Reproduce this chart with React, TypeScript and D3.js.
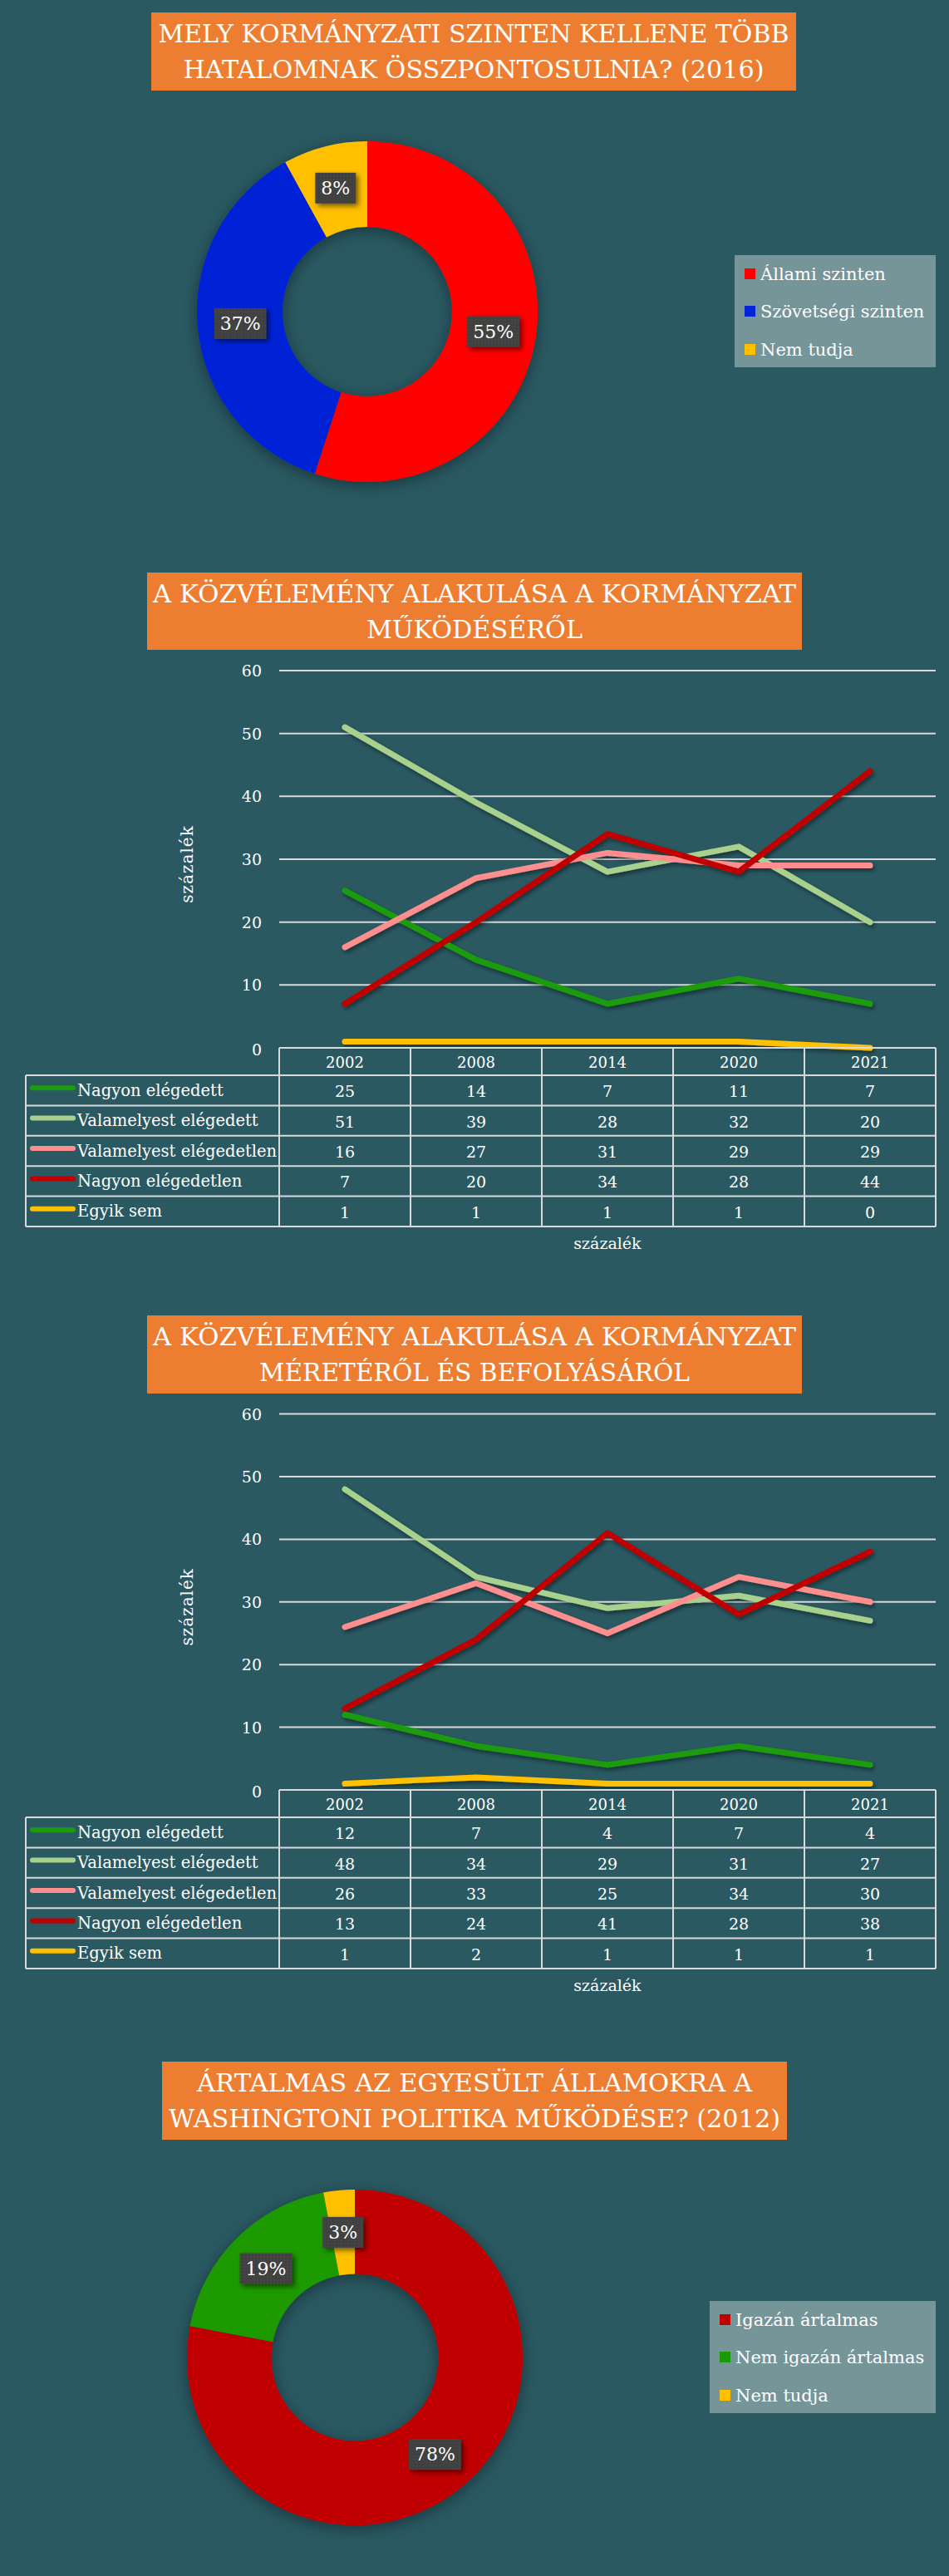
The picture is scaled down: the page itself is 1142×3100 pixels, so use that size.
import React, { useEffect, useRef } from "react";
import * as d3 from "d3";

const W = 1142;
const H = 3100;
const BG = "#2a5962";
const ORANGE = "#ed7d31";
const GRID = "#d9d9d9";
const FONT = "'DejaVu Serif', 'Liberation Serif', serif";

// chart 1 – donut
const title1 = ["MELY KORMÁNYZATI SZINTEN KELLENE TÖBB", "HATALOMNAK ÖSSZPONTOSULNIA? (2016)"];
const levelLabels = ["Állami szinten", "Szövetségi szinten", "Nem tudja"];
const levelValues = [55, 37, 8];
const levelColors = ["#ff0000", "#0024d6", "#ffc000"];

// chart 2 + 3 – lines with data table
const years = ["2002", "2008", "2014", "2020", "2021"];
const seriesNames = [
  "Nagyon elégedett",
  "Valamelyest elégedett",
  "Valamelyest elégedetlen",
  "Nagyon elégedetlen",
  "Egyik sem",
];
const seriesColors = ["#1a9c0c", "#a9d18e", "#ff8f8f", "#c00000", "#ffc000"];
const yTicks = [0, 10, 20, 30, 40, 50, 60];

const title2 = ["A KÖZVÉLEMÉNY ALAKULÁSA A KORMÁNYZAT", "MŰKÖDÉSÉRŐL"];
const workVeryPleased = [25, 14, 7, 11, 7];
const workSomewhatPleased = [51, 39, 28, 32, 20];
const workSomewhatUnhappy = [16, 27, 31, 29, 29];
const workVeryUnhappy = [7, 20, 34, 28, 44];
const workNeither = [1, 1, 1, 1, 0];

const title3 = ["A KÖZVÉLEMÉNY ALAKULÁSA A KORMÁNYZAT", "MÉRETÉRŐL ÉS BEFOLYÁSÁRÓL"];
const sizeVeryPleased = [12, 7, 4, 7, 4];
const sizeSomewhatPleased = [48, 34, 29, 31, 27];
const sizeSomewhatUnhappy = [26, 33, 25, 34, 30];
const sizeVeryUnhappy = [13, 24, 41, 28, 38];
const sizeNeither = [1, 2, 1, 1, 1];

// chart 4 – donut
const title4 = ["ÁRTALMAS AZ EGYESÜLT ÁLLAMOKRA A", "WASHINGTONI POLITIKA MŰKÖDÉSE? (2012)"];
const harmLabels = ["Igazán ártalmas", "Nem igazán ártalmas", "Nem tudja"];
const harmValues = [78, 19, 3];
const harmColors = ["#c00000", "#1a9a06", "#ffc000"];

type Sel = d3.Selection<SVGGElement, unknown, null, undefined>;

const drawTitle = (
  g: Sel,
  lines: string[],
  box: [number, number, number, number],
  widths: number[],
) => {
  const [x0, x1, y0, y1] = box;
  g.append("rect")
    .attr("x", x0)
    .attr("y", y0)
    .attr("width", x1 - x0)
    .attr("height", y1 - y0)
    .attr("fill", ORANGE);
  lines.forEach((line, i) => {
    g.append("text")
      .attr("x", (x0 + x1) / 2)
      .attr("y", y0 + 36 + i * 43)
      .attr("text-anchor", "middle")
      .attr("fill", "#ffffff")
      .attr("font-family", FONT)
      .attr("font-size", 29)
      .attr("textLength", widths[i])
      .attr("lengthAdjust", "spacingAndGlyphs")
      .text(line);
  });
};

const drawDonut = (
  g: Sel,
  cx: number,
  cy: number,
  outer: number,
  inner: number,
  labels: string[],
  values: number[],
  colors: string[],
  legend: { x0: number; x1: number; y0: number; y1: number; sq: number; tx: number; rows: number[] },
) => {
  const pie = d3.pie<number>().value((d) => d).sort(null);
  const arc = d3.arc<d3.PieArcDatum<number>>().innerRadius(inner).outerRadius(outer);
  const arcs = pie(values);
  const ring = g.append("g").attr("transform", `translate(${cx},${cy})`);
  ring
    .append("g")
    .attr("filter", "url(#donutShadow)")
    .selectAll("path")
    .data(arcs)
    .enter()
    .append("path")
    .attr("d", arc)
    .attr("fill", (_d, i) => colors[i]);

  arcs.forEach((a) => {
    const [lx, ly] = arc.centroid(a);
    const lab = ring.append("g").attr("transform", `translate(${lx},${ly})`);
    const rect = lab.append("rect").attr("fill", "url(#dots)").attr("filter", "url(#boxShadow)");
    const t = lab
      .append("text")
      .attr("text-anchor", "middle")
      .attr("dominant-baseline", "central")
      .attr("fill", "#ffffff")
      .attr("font-family", FONT)
      .attr("font-size", 22)
      .text(`${a.data}%`);
    const bw = (t.node() as SVGTextElement).getComputedTextLength() + 14;
    rect.attr("x", -bw / 2).attr("y", -18.5).attr("width", bw).attr("height", 37);
  });

  g.append("rect")
    .attr("x", legend.x0)
    .attr("y", legend.y0)
    .attr("width", legend.x1 - legend.x0)
    .attr("height", legend.y1 - legend.y0)
    .attr("fill", "#769599");
  labels.forEach((name, i) => {
    g.append("rect")
      .attr("x", legend.sq)
      .attr("y", legend.rows[i] - 14)
      .attr("width", 13)
      .attr("height", 13)
      .attr("fill", colors[i]);
    g.append("text")
      .attr("x", legend.tx)
      .attr("y", legend.rows[i])
      .attr("fill", "#ffffff")
      .attr("font-family", FONT)
      .attr("font-size", 21)
      .text(name);
  });
};

const drawLineChart = (g: Sel, series: number[][], y0: number, y60: number) => {
  const x = d3.scaleBand<string>().domain(years).range([336, 1126]).padding(0);
  const y = d3.scaleLinear().domain([0, 60]).range([y0, y60]);
  const cxOf = (yr: string) => (x(yr) as number) + x.bandwidth() / 2;

  // gridlines + tick labels
  yTicks.forEach((t) => {
    g.append("line")
      .attr("x1", 336)
      .attr("x2", 1126)
      .attr("y1", y(t))
      .attr("y2", y(t))
      .attr("stroke", GRID)
      .attr("stroke-width", 2);
    g.append("text")
      .attr("x", 315)
      .attr("y", y(t) + (t === 0 ? 2 : 0))
      .attr("text-anchor", "end")
      .attr("dominant-baseline", "central")
      .attr("fill", "#ffffff")
      .attr("font-family", FONT)
      .attr("font-size", 19)
      .text(t);
  });

  g.append("text")
    .attr("transform", `translate(232,${(y0 + y60) / 2 + 6}) rotate(-90)`)
    .attr("text-anchor", "middle")
    .attr("fill", "#ffffff")
    .attr("font-family", FONT)
    .attr("font-size", 20)
    .attr("letter-spacing", 1)
    .text("százalék");

  const line = d3
    .line<number>()
    .x((_d, i) => cxOf(years[i]))
    .y((d) => y(d));
  const lines = g.append("g").attr("filter", "url(#lineShadow)");
  series.forEach((s, i) => {
    lines
      .append("path")
      .attr("d", line(s))
      .attr("fill", "none")
      .attr("stroke", seriesColors[i])
      .attr("stroke-width", 7)
      .attr("stroke-linecap", "round")
      .attr("stroke-linejoin", "round");
  });

  // data table
  const headTop = y0;
  const headBot = y0 + 33;
  const rowH = 36.4;
  const tableBot = headBot + rowH * series.length;
  const tbl = g.append("g").attr("stroke", GRID).attr("stroke-width", 2);
  tbl.append("line").attr("x1", 336).attr("x2", 1126).attr("y1", headTop).attr("y2", headTop);
  years.forEach((yr) => {
    const xl = x(yr) as number;
    tbl.append("line").attr("x1", xl).attr("x2", xl).attr("y1", headTop).attr("y2", tableBot);
  });
  tbl.append("line").attr("x1", 1126).attr("x2", 1126).attr("y1", headTop).attr("y2", tableBot);
  tbl.append("line").attr("x1", 31).attr("x2", 31).attr("y1", headBot).attr("y2", tableBot);
  for (let r = 0; r <= series.length; r++) {
    const yy = headBot + r * rowH;
    tbl.append("line").attr("x1", 31).attr("x2", 1126).attr("y1", yy).attr("y2", yy);
  }

  years.forEach((yr) => {
    g.append("text")
      .attr("x", cxOf(yr))
      .attr("y", (headTop + headBot) / 2 + 1)
      .attr("text-anchor", "middle")
      .attr("dominant-baseline", "central")
      .attr("fill", "#ffffff")
      .attr("font-family", FONT)
      .attr("font-size", 18)
      .text(yr);
  });

  series.forEach((s, r) => {
    const cy = headBot + rowH * r + rowH / 2;
    g.append("line")
      .attr("x1", 39)
      .attr("x2", 88)
      .attr("y1", cy - 3)
      .attr("y2", cy - 3)
      .attr("stroke", seriesColors[r])
      .attr("stroke-width", 6)
      .attr("stroke-linecap", "round");
    g.append("text")
      .attr("x", 93)
      .attr("y", cy)
      .attr("dominant-baseline", "central")
      .attr("fill", "#ffffff")
      .attr("font-family", FONT)
      .attr("font-size", 19.5)
      .text(seriesNames[r]);
    s.forEach((v, i) => {
      g.append("text")
        .attr("x", cxOf(years[i]))
        .attr("y", cy + 1)
        .attr("text-anchor", "middle")
        .attr("dominant-baseline", "central")
        .attr("fill", "#ffffff")
        .attr("font-family", FONT)
        .attr("font-size", 19)
        .text(v);
    });
  });

  g.append("text")
    .attr("x", 731)
    .attr("y", tableBot + 27)
    .attr("text-anchor", "middle")
    .attr("fill", "#ffffff")
    .attr("font-family", FONT)
    .attr("font-size", 19)
    .text("százalék");
};

const App = () => {
  const ref = useRef<SVGSVGElement>(null);

  useEffect(() => {
    const svg = d3.select(ref.current);
    svg.selectAll("*").remove();

    const defs = svg.append("defs");
    defs
      .append("filter")
      .attr("id", "lineShadow")
      .attr("x", "-10%")
      .attr("y", "-10%")
      .attr("width", "120%")
      .attr("height", "130%")
      .append("feDropShadow")
      .attr("dx", 2)
      .attr("dy", 3)
      .attr("stdDeviation", 2.5)
      .attr("flood-color", "#000")
      .attr("flood-opacity", 0.45);
    defs
      .append("filter")
      .attr("id", "donutShadow")
      .attr("x", "-20%")
      .attr("y", "-20%")
      .attr("width", "140%")
      .attr("height", "140%")
      .append("feDropShadow")
      .attr("dx", 0)
      .attr("dy", 4)
      .attr("stdDeviation", 9)
      .attr("flood-color", "#000")
      .attr("flood-opacity", 0.4);
    defs
      .append("filter")
      .attr("id", "boxShadow")
      .attr("x", "-30%")
      .attr("y", "-30%")
      .attr("width", "160%")
      .attr("height", "160%")
      .append("feDropShadow")
      .attr("dx", 3)
      .attr("dy", 3)
      .attr("stdDeviation", 3)
      .attr("flood-color", "#000")
      .attr("flood-opacity", 0.55);
    const pat = defs
      .append("pattern")
      .attr("id", "dots")
      .attr("width", 4)
      .attr("height", 4)
      .attr("patternUnits", "userSpaceOnUse");
    pat.append("rect").attr("width", 4).attr("height", 4).attr("fill", "#3f3f3f");
    pat.append("circle").attr("cx", 2).attr("cy", 2).attr("r", 0.7).attr("fill", "#555555");

    svg.append("rect").attr("width", W).attr("height", H).attr("fill", BG);

    const g1 = svg.append("g");
    drawTitle(g1, title1, [182, 958, 15, 109], [759, 699]);
    drawDonut(g1, 442, 375, 205, 102, levelLabels, levelValues, levelColors, {
      x0: 884,
      x1: 1126,
      y0: 307,
      y1: 442,
      sq: 896,
      tx: 915,
      rows: [337, 382, 428],
    });

    const g2 = svg.append("g");
    drawTitle(g2, title2, [177, 965, 689, 782], [774, 260]);
    drawLineChart(
      g2,
      [workVeryPleased, workSomewhatPleased, workSomewhatUnhappy, workVeryUnhappy, workNeither],
      1261,
      807,
    );

    const g3 = svg.append("g");
    drawTitle(g3, title3, [177, 965, 1583, 1677], [774, 518]);
    drawLineChart(
      g3,
      [sizeVeryPleased, sizeSomewhatPleased, sizeSomewhatUnhappy, sizeVeryUnhappy, sizeNeither],
      2154,
      1701.6,
    );

    const g4 = svg.append("g");
    drawTitle(g4, title4, [195, 947, 2481, 2575], [668, 736]);
    drawDonut(g4, 427, 2837, 202, 100.5, harmLabels, harmValues, harmColors, {
      x0: 854,
      x1: 1126,
      y0: 2769,
      y1: 2904,
      sq: 866,
      tx: 885,
      rows: [2799, 2844, 2890],
    });
  }, []);

  return (
    <svg
      ref={ref}
      width={W}
      height={H}
      style={{ position: "absolute", left: 0, top: 0, display: "block" }}
    />
  );
};

export default App;
